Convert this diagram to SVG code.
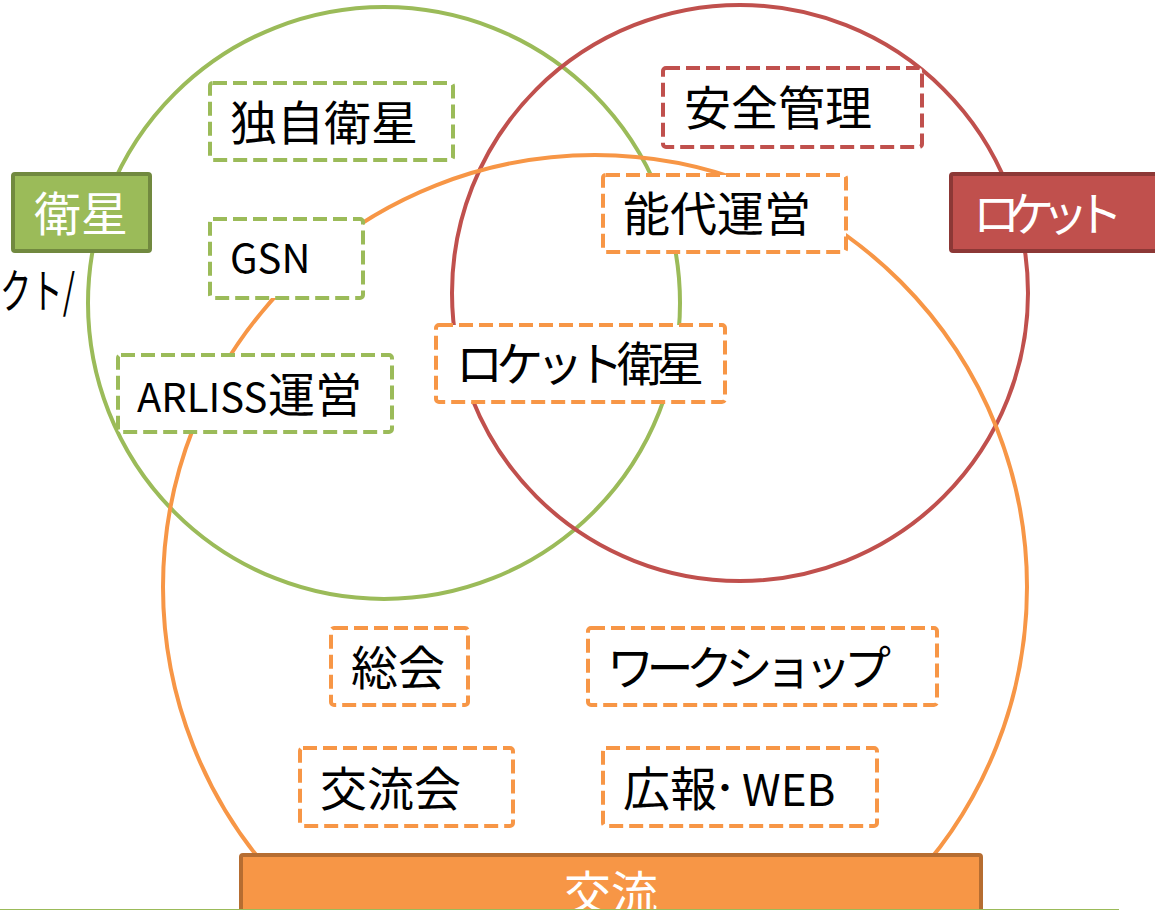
<svg xmlns="http://www.w3.org/2000/svg" width="1155" height="910" viewBox="0 0 1155 910">
<style>
text{font-family:"Noto Sans CJK JP","Noto Sans",sans-serif;font-size:47px;fill:#000}
.lat{font-size:40px}
.circ{fill:none;stroke-width:4}
.db{fill:#fff;stroke-width:4;stroke-dasharray:14 6}
.g{stroke:#9BBB59}.r{stroke:#C0504D}.o{stroke:#F79646}
.lbl{fill:#fff}
</style>
<rect width="1155" height="910" fill="#fff"/>
<g id="circles">
<circle id="circle-eisei" class="circ g" cx="384" cy="303" r="296"/>
<circle id="circle-rocket" class="circ r" cx="740" cy="293" r="288"/>
<circle id="circle-koryu" class="circ o" cx="595" cy="587" r="432"/>
</g>
<g id="n-dokuji"><rect class="db g" x="210" y="83" width="243" height="77" rx="3"/><text x="230" y="140">独自衛星</text></g>
<g id="n-gsn"><rect class="db g" x="210" y="219" width="153" height="79" rx="3"/><text class="lat" x="230" y="273">GSN</text></g>
<g id="n-arliss"><rect class="db g" x="118" y="355" width="274" height="77" rx="3"/><text x="137" y="412"><tspan class="lat">ARLISS</tspan><tspan x="268">運営</tspan></text></g>
<g id="n-anzen"><rect class="db r" x="663" y="68" width="259" height="79" rx="3"/><text x="684" y="125">安全管理</text></g>
<g id="n-noshiro"><rect class="db o" x="603" y="175" width="243" height="77" rx="3"/><text x="623" y="231">能代運営</text></g>
<g id="n-rocketeisei"><rect class="db o" x="436" y="325" width="289" height="77" rx="3"/><text x="456" y="381" textLength="248" lengthAdjust="spacing">ロケット衛星</text></g>
<g id="n-sokai"><rect class="db o" x="331" y="628" width="137" height="77" rx="3"/><text x="351" y="685">総会</text></g>
<g id="n-workshop"><rect class="db o" x="588" y="628" width="349" height="77" rx="3"/><text x="607" y="685" textLength="284" lengthAdjust="spacing">ワークショップ</text></g>
<g id="n-koryukai"><rect class="db o" x="300" y="748" width="213" height="78" rx="3"/><text x="320" y="806">交流会</text></g>
<g id="n-koho"><rect class="db o" x="603" y="748" width="274" height="78" rx="3"/><text x="623" y="806">広報<tspan x="708" y="801" font-size="34">・</tspan><tspan x="742" y="806" font-size="44">WEB</tspan></text></g>
<g id="label-eisei"><rect x="13" y="174" width="137" height="77" rx="2" fill="#9BBB59" stroke="#71893F" stroke-width="4"/><text class="lbl" x="34" y="231">衛星</text></g>
<g id="label-rocket"><rect x="951" y="174" width="220" height="77" rx="2" fill="#C0504D" stroke="#8C3836" stroke-width="4"/><text class="lbl" x="973" y="231" textLength="150" lengthAdjust="spacing">ロケット</text></g>
<g id="label-koryu"><rect x="241" y="855" width="740" height="80" rx="2" fill="#F79646" stroke="#B66D31" stroke-width="4"/><text class="lbl" x="611" y="910" text-anchor="middle">交流</text></g>
<text id="cut-text" x="0" y="308" font-size="44" textLength="75" lengthAdjust="spacingAndGlyphs">クト/</text>
<line x1="0" y1="909.5" x2="1119" y2="909.5" stroke="#9BBB59" stroke-width="1"/>
</svg>
